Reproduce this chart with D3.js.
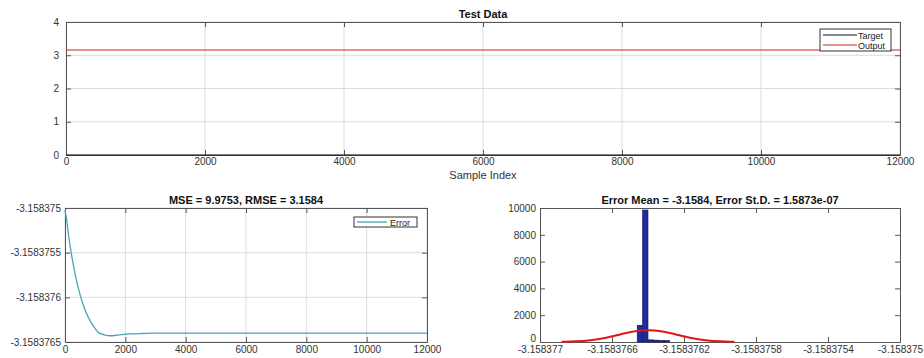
<!DOCTYPE html>
<html>
<head>
<meta charset="utf-8">
<script src="https://cdn.jsdelivr.net/npm/d3@7"></script>
<style>
  body { margin: 0; background: #fff; }
  svg { display: block; font-family: "Liberation Sans", Arial, sans-serif; }
  .tick text { fill: #333; font-size: 10px; }
  .ttl { font-weight: bold; font-size: 11px; fill: #111; }
</style>
</head>
<body>
<div id="app"></div>
<script>
// Test Data panel
const sampleX = [0, 12000];
const targetY = [0, 0];
const outputY = [3.1584, 3.1584];
const topXTicks = [0, 2000, 4000, 6000, 8000, 10000, 12000];
const topYTicks = [0, 1, 2, 3, 4];

// Error curve
const errX = [0, 50, 100, 200, 300, 400, 500, 600, 700, 800, 900, 1000, 1100, 1200, 1300, 1500, 1800, 2200, 2600, 3000, 6000, 12000];
const errY = [-3.15837503, -3.15837512, -3.15837526, -3.15837549, -3.15837568, -3.15837584, -3.15837597, -3.15837608,
  -3.15837617, -3.15837624, -3.1583763, -3.15837635, -3.15837639, -3.15837641, -3.15837642, -3.15837643,
  -3.15837642, -3.15837641, -3.158376405, -3.1583764, -3.1583764, -3.1583764];
const errYTicks = [-3.158375, -3.1583755, -3.158376, -3.1583765];
const errYLabels = ['-3.158375', '-3.1583755', '-3.158376', '-3.1583765'];

// Histogram of errors
const binWidth = 3e-8;
const binStarts = [-3.15837646, -3.15837643, -3.1583764, -3.15837637, -3.15837634, -3.15837631];
const binCounts = [1250, 9850, 160, 140, 120, 100];
const fitX = [-3.15837688, -3.1583768, -3.15837672, -3.15837664, -3.15837656, -3.15837648, -3.1583764,
  -3.15837632, -3.15837624, -3.15837616, -3.15837608, -3.158376, -3.15837592];
const fitY = [10, 40, 120, 290, 550, 800, 905, 800, 550, 290, 120, 40, 10];
const histXTicks = [-3.158377, -3.1583766, -3.1583762, -3.1583758, -3.1583754, -3.158375];
const histXLabels = ['-3.158377', '-3.1583766', '-3.1583762', '-3.1583758', '-3.1583754', '-3.158375'];
const histYTicks = [0, 2000, 4000, 6000, 8000, 10000];

const svgWidth = 924;
const svgHeight = 358;
const gridColor = '#dcdcdc';
const boxColor = '#555';
const outColor = '#cc2219';

const svg = d3.select('#app').append('svg')
  .attr('width', svgWidth)
  .attr('height', svgHeight);

// draws box, inside ticks on all sides, labels on left/bottom
const makeAxes = (p, x, y, xt, yt, xfmt, yfmt, grid, padX, padY) => {
  const g = svg.append('g');
  if (grid) {
    g.selectAll('.vg').data(xt).enter().append('line')
      .attr('x1', d => x(d)).attr('x2', d => x(d))
      .attr('y1', p.y0).attr('y2', p.y1)
      .attr('stroke', gridColor).attr('stroke-width', 1);
    g.selectAll('.hg').data(yt).enter().append('line')
      .attr('x1', p.x0).attr('x2', p.x1)
      .attr('y1', d => y(d)).attr('y2', d => y(d))
      .attr('stroke', gridColor).attr('stroke-width', 1);
  }
  const axes = [
    [d3.axisBottom(x).tickValues(xt).tickFormat(xfmt).tickPadding(padX), `translate(0,${p.y1})`],
    [d3.axisTop(x).tickValues(xt).tickFormat(''), `translate(0,${p.y0})`],
    [d3.axisLeft(y).tickValues(yt).tickFormat(yfmt).tickPadding(padY), `translate(${p.x0},0)`],
    [d3.axisRight(y).tickValues(yt).tickFormat(''), `translate(${p.x1},0)`]
  ];
  const out = axes.map(([ax, tr]) => {
    const a = g.append('g').attr('transform', tr)
      .call(ax.tickSizeInner(-5).tickSizeOuter(0));
    a.select('.domain').attr('stroke', boxColor);
    a.selectAll('.tick line').attr('stroke', boxColor);
    return a;
  });
  return out;
};

// ---------- Test Data ----------
const pTop = { x0: 66, x1: 900, y0: 22, y1: 155 };
const xTop = d3.scaleLinear().domain([0, 12000]).range([pTop.x0, pTop.x1]);
const yTop = d3.scaleLinear().domain([0, 4]).range([pTop.y1, pTop.y0]);
makeAxes(pTop, xTop, yTop, topXTicks, topYTicks, d3.format('d'), d3.format('d'), true, 3, 7);

const lineTop = d3.line().x(d => xTop(d[0])).y(d => yTop(d[1]));
svg.append('path').datum(d3.zip(sampleX, targetY)).attr('d', lineTop)
  .attr('fill', 'none').attr('stroke', '#111').attr('stroke-width', 1);
svg.append('path').datum(d3.zip(sampleX, outputY)).attr('d', lineTop)
  .attr('fill', 'none').attr('stroke', outColor).attr('stroke-width', 1.1);

svg.append('text').attr('class', 'ttl').attr('x', 483).attr('y', 18)
  .attr('text-anchor', 'middle').text('Test Data');
svg.append('text').attr('x', 483).attr('y', 179).attr('text-anchor', 'middle')
  .attr('font-size', 11).attr('fill', '#333').text('Sample Index');

// legend
const lg = svg.append('g').attr('transform', 'translate(820,29)');
lg.append('rect').attr('width', 71).attr('height', 22).attr('fill', '#fff').attr('stroke', '#333');
[['Target', '#111'], ['Output', outColor]].forEach((e, i) => {
  lg.append('line').attr('x1', 3).attr('x2', 37).attr('y1', 6 + i * 10).attr('y2', 6 + i * 10)
    .attr('stroke', e[1]).attr('stroke-width', 1);
  lg.append('text').attr('x', 38).attr('y', 9.5 + i * 10).attr('font-size', 9).attr('fill', '#222').text(e[0]);
});

// ---------- Error curve ----------
const pBL = { x0: 65, x1: 427, y0: 208, y1: 342 };
const xBL = d3.scaleLinear().domain([0, 12000]).range([pBL.x0, pBL.x1]);
const yBL = d3.scaleLinear().domain([-3.1583765, -3.158375]).range([pBL.y1, pBL.y0]);
makeAxes(pBL, xBL, yBL, topXTicks, errYTicks, d3.format('d'), (d, i) => errYLabels[i], true, 4, 4);

svg.append('path').datum(d3.zip(errX, errY))
  .attr('d', d3.line().x(d => xBL(d[0])).y(d => yBL(d[1])).curve(d3.curveMonotoneX))
  .attr('fill', 'none').attr('stroke', '#4aa3b6').attr('stroke-width', 1.3);

svg.append('text').attr('class', 'ttl').attr('x', 246).attr('y', 204)
  .attr('text-anchor', 'middle').text('MSE = 9.9753, RMSE = 3.1584');

const lg2 = svg.append('g').attr('transform', 'translate(354,217)');
lg2.append('rect').attr('width', 63).attr('height', 10).attr('fill', '#fff').attr('stroke', '#333');
lg2.append('line').attr('x1', 3).attr('x2', 33).attr('y1', 5).attr('y2', 5)
  .attr('stroke', '#4aa3b6').attr('stroke-width', 1.3);
lg2.append('text').attr('x', 36).attr('y', 8.5).attr('font-size', 9).attr('fill', '#222').text('Error');

// ---------- Histogram ----------
const pBR = { x0: 540, x1: 900, y0: 208, y1: 342 };
const xBR = d3.scaleLinear().domain([-3.158377, -3.158375]).range([pBR.x0, pBR.x1]);
const yBR = d3.scaleLinear().domain([0, 10000]).range([pBR.y1, pBR.y0]);
const brAxes = makeAxes(pBR, xBR, yBR, histXTicks, histYTicks, (d, i) => histXLabels[i], d3.format('d'), false, 4, 4);
// the "0" count label sits a little higher, clear of the x labels
brAxes[2].selectAll('.tick').filter(d => d === 0).select('text').attr('dy', '-0.05em');

svg.append('g').selectAll('rect').data(d3.zip(binStarts, binCounts)).enter().append('rect')
  .attr('x', d => xBR(d[0]))
  .attr('width', d => xBR(d[0] + binWidth) - xBR(d[0]))
  .attr('y', d => yBR(d[1]))
  .attr('height', d => yBR(0) - yBR(d[1]))
  .attr('fill', '#1f2aa0').attr('stroke', '#0c1560').attr('stroke-width', 0.6);

svg.append('path').datum(d3.zip(fitX, fitY))
  .attr('d', d3.line().x(d => xBR(d[0])).y(d => yBR(d[1])).curve(d3.curveBasis))
  .attr('fill', 'none').attr('stroke', '#e0161a').attr('stroke-width', 2);

svg.append('text').attr('class', 'ttl').attr('x', 720).attr('y', 204)
  .attr('text-anchor', 'middle').text('Error Mean = -3.1584, Error St.D. = 1.5873e-07');
</script>
</body>
</html>
